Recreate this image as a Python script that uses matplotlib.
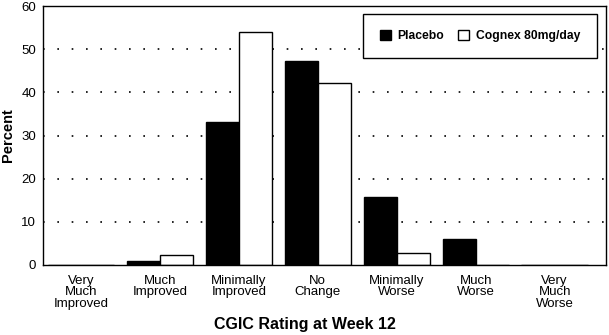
import numpy as np
import matplotlib.pyplot as plt

plt.rcParams['font.family'] = ['Liberation Sans', 'DejaVu Sans']

# Dados
categorias = ['Very\nMuch\nImproved', 'Much\nImproved', 'Minimally\nImproved',
              'No\nChange', 'Minimally\nWorse', 'Much\nWorse', 'Very\nMuch\nWorse']
placebo = [0, 1.0, 33.1, 47.2, 15.7, 6.0, 0]
cognex = [0, 2.2, 54.0, 42.1, 2.8, 0, 0]

x = np.arange(len(categorias))
w = 0.42

fig = plt.figure(figsize=(6.09, 3.35), dpi=100)
ax = fig.add_axes([0.0706, 0.209, 0.9244, 0.773])

ax.bar(x - w / 2, placebo, w, color='black', edgecolor='black', linewidth=1, label='Placebo')
ax.bar(x + w / 2, cognex, w, color='white', edgecolor='black', linewidth=1, label='Cognex 80mg/day')

# linhas pontilhadas de grade
for y in [10, 20, 30, 40, 50]:
    ax.axhline(y, color='black', linewidth=1.2, linestyle=(0, (1, 7.6)), zorder=0)

ax.set_xlim(-0.48, 6.65)
ax.set_ylim(0, 60)
ax.set_yticks([0, 10, 20, 30, 40, 50, 60])
ax.set_xticks(x)
ax.set_xticklabels(categorias, fontsize=9.5, linespacing=0.95)
ax.tick_params(axis='both', length=0, labelsize=9.5)
ax.tick_params(axis='x', pad=7)
ax.tick_params(axis='y', pad=5)
for s in ax.spines.values():
    s.set_linewidth(1)

ax.set_ylabel('Percent', fontsize=10.5, fontweight='bold')
ax.yaxis.set_label_coords(-0.05, 0.5)
ax.set_xlabel('CGIC Rating at Week 12', fontsize=11.5, fontweight='bold')
ax.xaxis.set_label_coords(0.465, -0.2)

leg = ax.legend(loc='upper right', bbox_to_anchor=(0.99, 0.985), ncol=2, fancybox=False,
                edgecolor='black', framealpha=1, prop={'weight': 'bold', 'size': 8.7},
                handlelength=0.9, handleheight=0.9, columnspacing=1.2, handletextpad=0.55,
                borderpad=1.35, borderaxespad=0.3)
leg.get_frame().set_linewidth(1)

fig.savefig('out.png', dpi=100)
